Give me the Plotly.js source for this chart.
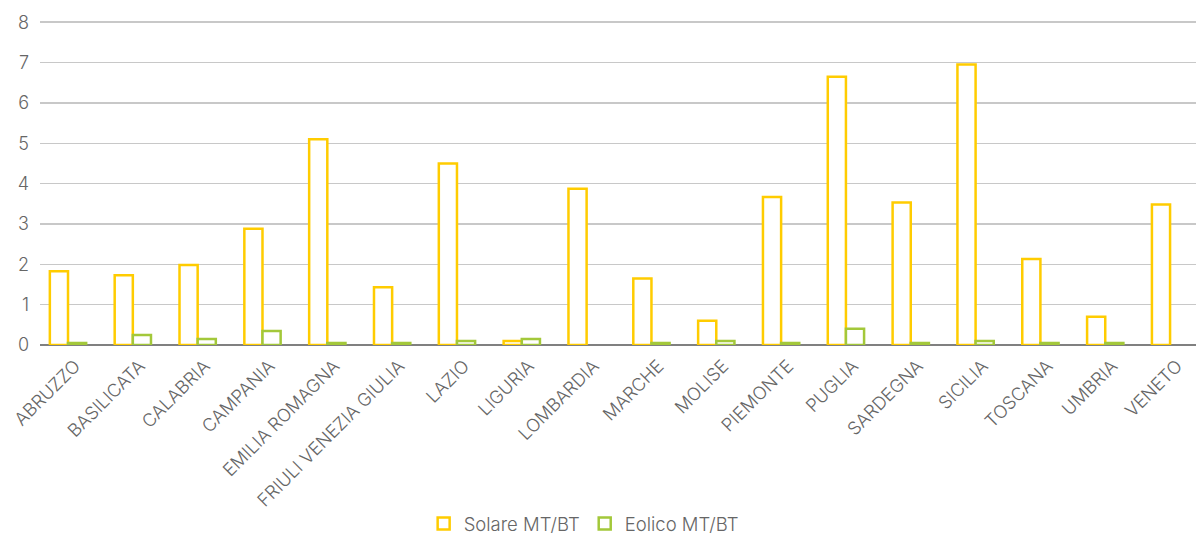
<!DOCTYPE html>
<html>
<head>
<meta charset="utf-8">
<script src="https://cdn.plot.ly/plotly-3.0.1.min.js"></script>
<style>html,body{margin:0;padding:0;background:#fff;}#chart{width:1196px;height:534px;}</style>
</head>
<body>
<div id="chart"></div>
<script>
const regions = ["ABRUZZO","BASILICATA","CALABRIA","CAMPANIA","EMILIA ROMAGNA","FRIULI VENEZIA GIULIA","LAZIO","LIGURIA","LOMBARDIA","MARCHE","MOLISE","PIEMONTE","PUGLIA","SARDEGNA","SICILIA","TOSCANA","UMBRIA","VENETO"];
const solare = [1.83,1.73,1.98,2.88,5.1,1.43,4.5,0.1,3.87,1.65,0.6,3.67,6.65,3.53,6.95,2.13,0.7,3.48];
const eolico = [0.05,0.25,0.15,0.35,0.05,0.05,0.1,0.15,null,0.05,0.1,0.05,0.4,0.05,0.1,0.05,0.05,null];
const yTicks = [0,1,2,3,4,5,6,7,8];

const fam = "Inter, Roboto, Liberation Sans, Arial, sans-serif";
const grey = "#666666";

const traces = [
  {type: "bar", name: "Solare MT/BT", x: regions, y: solare,
   marker: {color: "#ffffff", line: {color: "#FFCC00", width: 2.5}}},
  {type: "bar", name: "Eolico MT/BT", x: regions, y: eolico,
   marker: {color: "#ffffff", line: {color: "#A3C83A", width: 2.5}}}
];

const layout = {
  width: 1196, height: 534,
  margin: {l: 40, r: 0, t: 21, b: 189},
  paper_bgcolor: "#fff", plot_bgcolor: "#fff",
  barmode: "group", bargap: 0.44, bargroupgap: 0,
  font: {family: fam, color: grey, weight: 300},
  showlegend: true,
  legend: {orientation: "h", xref: "container", yref: "container",
           x: 0.488, xanchor: "center", y: 0.0187, yanchor: "middle",
           itemwidth: 30, tracegroupgap: 0,
           font: {size: 18.5, color: grey, family: fam, weight: 300}, itemclick: false},
  xaxis: {type: "category", range: [-0.432, 17.4], tickangle: -45, automargin: false,
          tickfont: {size: 18, color: grey, family: fam, weight: 300},
          ticklabelshift: 7, ticklabelstandoff: 6,
          showgrid: false, showline: false, ticks: "", zeroline: false},
  yaxis: {range: [0, 8.03], tickvals: yTicks, ticktext: yTicks.map(String),
          tickfont: {size: 18, color: grey, family: fam, weight: 300},
          ticklabelstandoff: 10,
          showgrid: true, gridcolor: "#c8c8c8", gridwidth: 1.5,
          zeroline: true, zerolinecolor: "#808080", zerolinewidth: 2,
          ticks: "", ticklen: 0, showline: false, automargin: false}
};

Plotly.newPlot("chart", traces, layout, {displayModeBar: false, staticPlot: true});
</script>
</body>
</html>
